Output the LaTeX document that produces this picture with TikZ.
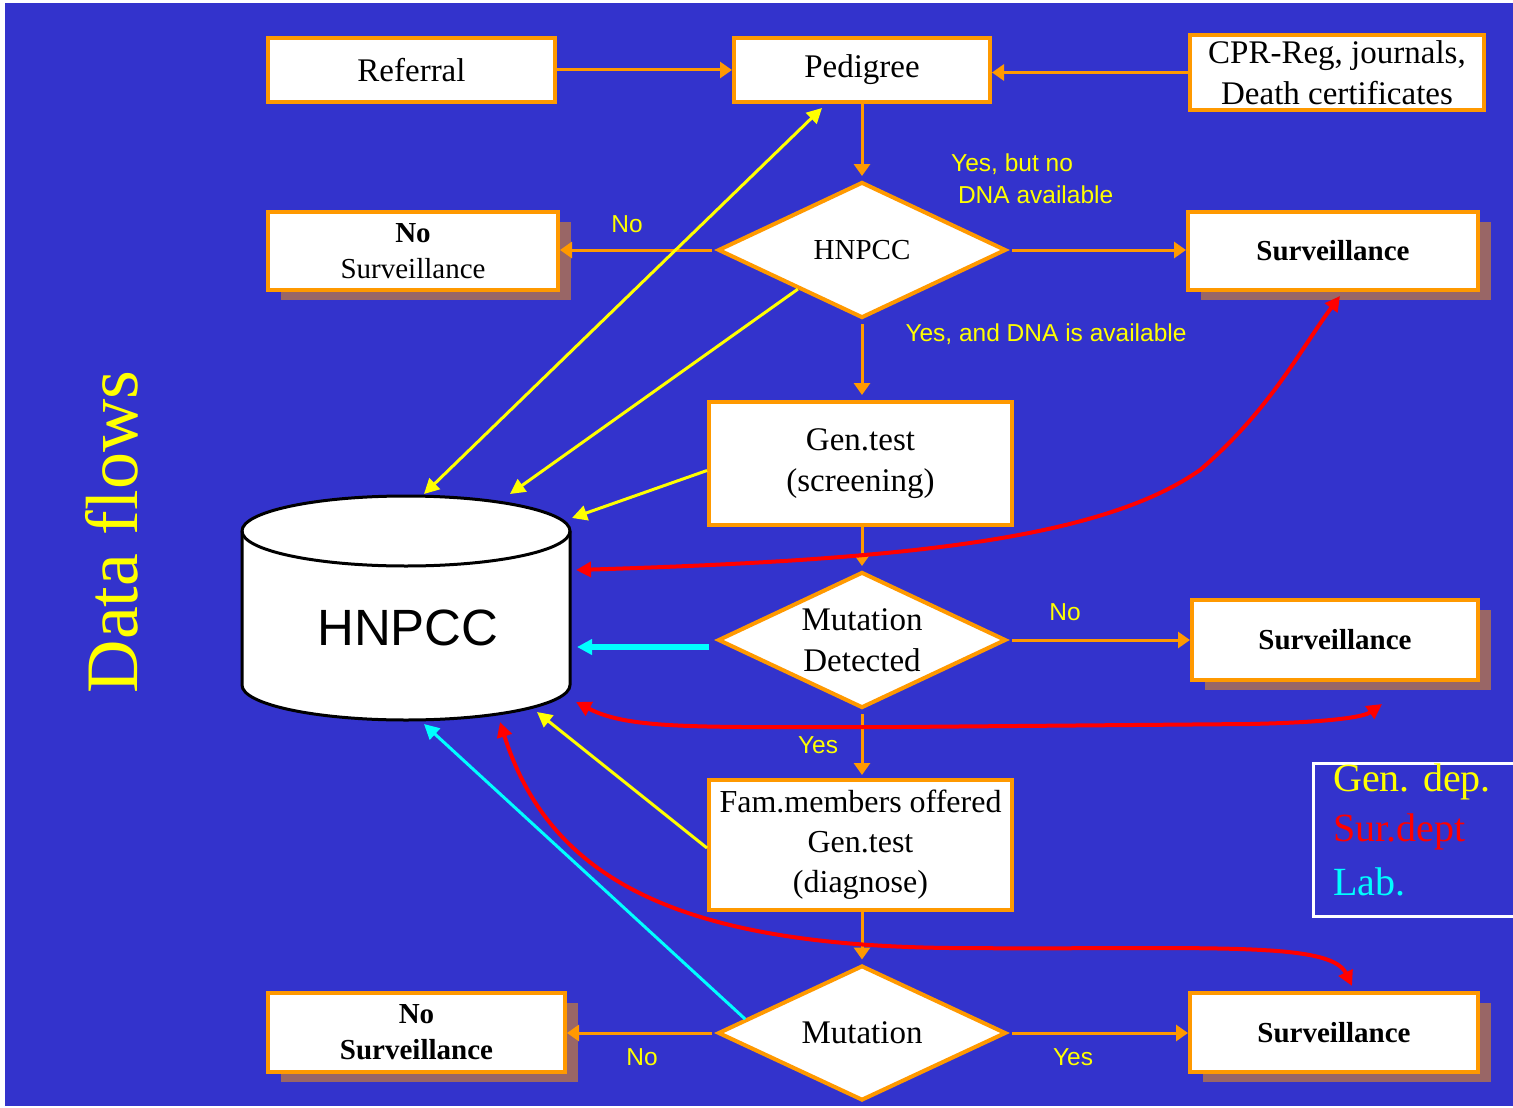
\documentclass[tikz,border=0pt]{standalone}
\usepackage{fontspec}
\setmainfont{Liberation Serif}
\newfontfamily\labfont{Liberation Sans}
\usetikzlibrary{shapes.geometric,arrows.meta,calc,shadows}
\definecolor{bgblue}{HTML}{3333CC}
\definecolor{orng}{HTML}{FF9900}
\definecolor{shbrown}{HTML}{996666}
\definecolor{ylw}{HTML}{FFFF00}
\definecolor{rd}{HTML}{FF0000}
\definecolor{cyn}{HTML}{00FFFF}
\begin{document}
\begin{tikzpicture}[x=1pt,y=-1pt,
  box/.style={draw=orng, line width=4pt, fill=white, rectangle, inner sep=2pt, align=center, font=\fontsize{33}{41}\selectfont},
  shbox/.style={box, drop shadow={shadow xshift=13pt, shadow yshift=-10pt, fill=shbrown, opacity=1}},
  dia/.style={draw=orng, line width=4pt, fill=white, diamond, inner sep=0pt, minimum width=288pt, minimum height=136pt},
  diatext/.style={font=\fontsize{33}{41}\selectfont, align=center},
  flow/.style={draw=orng, line width=3pt, -{Triangle[length=12pt,width=16pt]}},
  lab/.style={text=ylw, font=\labfont\fontsize{24.5}{32}\selectfont, inner sep=0pt},
  gen/.style={draw=ylw, line width=3pt},
  sur/.style={draw=rd, line width=4pt},
  labc/.style={draw=cyn},
  tip/.tip={Triangle[length=15pt,width=15pt]},
  legtext/.style={anchor=west, font=\fontsize{40}{48}\selectfont, inner sep=0pt}
]
\useasboundingbox (0,0) rectangle (1513,1108);
\fill[white] (0,0) rectangle (1513,1108);
\fill[bgblue] (5,3) rectangle (1513,1106);

% title
\node[rotate=90, anchor=base, text=ylw, font=\fontsize{74}{80}\selectfont, inner sep=0pt] (title) at (137,532) {Data flows};

% boxes
\node[box, minimum width=287pt, minimum height=64pt] (ref) at (411.5,70) {Referral};
\node[box, minimum width=256pt, minimum height=64pt] (ped) at (862,70) {Pedigree};
\node[box, minimum width=294pt, minimum height=75pt] (cpr) at (1337,72.5) {CPR-Reg, journals,\\Death certificates};
\node[shbox, minimum width=290pt, minimum height=78pt, font=\fontsize{29}{36}\selectfont] (ns1) at (413,251) {\textbf{No}\\Surveillance};
\node[shbox, minimum width=290pt, minimum height=78pt, font=\fontsize{29}{36}\selectfont\bfseries] (s1) at (1333,251) {Surveillance};
\node[dia, label={[diatext, font=\fontsize{29}{36}\selectfont]center:HNPCC}] (hn) at (862,250) {};
\node[box, minimum width=303pt, minimum height=123pt] (gen) at (860.5,463.5) {Gen.test\\(screening)};
\node[dia, label={[diatext]center:Mutation\\Detected}] (md) at (862,640) {};
\node[shbox, minimum width=286pt, minimum height=80pt, font=\fontsize{29}{36}\selectfont\bfseries] (s2) at (1335,640) {Surveillance};
\node[box, minimum width=303pt, minimum height=130pt, inner sep=1pt, font=\fontsize{32}{40}\selectfont] (fam) at (860.5,845) {Fam.members offered\\Gen.test\\(diagnose)};
\node[dia, minimum height=135pt, label={[diatext]center:Mutation}] (mu) at (862,1033) {};
\node[shbox, minimum width=297pt, minimum height=79pt, font=\fontsize{29}{36}\selectfont\bfseries] (ns2) at (416.5,1032.5) {No\\Surveillance};
\node[shbox, minimum width=288pt, minimum height=79pt, font=\fontsize{29}{36}\selectfont\bfseries] (s3) at (1334,1032.5) {Surveillance};

% database cylinder
\draw[line width=3pt, fill=white] (242,531) -- (242,685) arc[start angle=180,end angle=360,x radius=164pt,y radius=35pt] -- (570,531) arc[start angle=0,end angle=180,x radius=164pt,y radius=35pt] -- cycle;
\draw[line width=3pt] (242,531) arc[start angle=180,end angle=360,x radius=164pt,y radius=35pt];
\node[font=\labfont\fontsize{51}{56}\selectfont, inner sep=0pt] (db) at (408,628) {HNPCC};
\coordinate (dbY1) at (424,494);
\coordinate (dbY2) at (510,494);
\coordinate (dbY3) at (572,518);
\coordinate (dbY4) at (537,712);
\coordinate (dbR1) at (576,570);
\coordinate (dbR2) at (576,702);
\coordinate (dbR3) at (500,722);
\coordinate (dbC1) at (577,647);
\coordinate (dbC2) at (424,724);
\coordinate (r2end) at (1382,704);

% orange flow arrows
\draw[flow] (ref.east) -- (ped.west);
\draw[flow] (cpr.west) -- (cpr.west -| ped.east);
\draw[flow, shorten >=4pt] (ped.south) -- (hn.north);
\draw[flow, shorten <=4pt] (hn.west) -- (hn.west -| ns1.east);
\draw[flow, shorten <=4pt] (hn.east) -- (hn.east -| s1.west);
\draw[flow, shorten <=4pt, shorten >=5pt] (hn.south) -- (hn.south |- gen.north);
\draw[flow, shorten >=4pt] (gen.south -| md.north) -- (md.north);
\draw[flow, shorten <=4pt] (md.east) -- (md.east -| s2.west);
\draw[flow, shorten <=4pt, shorten >=3pt] (md.south) -- (md.south |- fam.north);
\draw[flow, shorten >=4pt] (fam.south -| mu.north) -- (mu.north);
\draw[flow, shorten <=4pt] (mu.west) -- (mu.west -| ns2.east);
\draw[flow, shorten <=4pt] (mu.east) -- (mu.east -| s3.west);

% labels
\node[lab, align=left, anchor=west] (l1) at (951,179) {Yes, but no\\\ DNA available};
\node[lab] (l2) at (627,224) {No};
\node[lab] (l3) at (1046,334) {Yes, and DNA is available};
\node[lab] (l4) at (1065,612) {No};
\node[lab] (l5) at (818,745) {Yes};
\node[lab] (l6) at (642,1057) {No};
\node[lab] (l7) at (1073,1057) {Yes};

% yellow (Gen. dep.)
\draw[gen, tip-tip] (dbY1) -- ($(ped.south)+(-40,4)$);
\draw[gen, -tip] ($(hn.west)!0.56!(hn.south)$) -- (dbY2);
\draw[gen, -tip] ($(gen.west)+(0,7)$) -- (dbY3);
\draw[gen, -tip] ($(fam.west)+(0,3)$) -- (dbY4);

% red (Sur. dept)
\draw[sur, tip-tip] (dbR1) .. controls (900,560) and (1100,540) .. (1200,470) .. controls (1270,410) and (1300,350) .. ($(s1.south)+(7,4)$);
\draw[sur, tip-tip] (dbR2) .. controls (630,730) and (700,727) .. (900,727) -- (1250,724) .. controls (1340,722) and (1365,716) .. (r2end);
\draw[sur, tip-tip] (dbR3) .. controls (550,880) and (680,945) .. (950,948) .. controls (1200,950) and (1330,940) .. ($(s3.north)+(18,-5)$);

% cyan (Lab.)
\draw[labc, line width=6pt, -tip] ($(md.west)+(-7,7)$) -- (dbC1);
\draw[labc, line width=3pt, -tip] ($(mu.west)!0.2!(mu.north)$) -- (dbC2);

% legend
\node[draw=white, line width=3pt, minimum width=206pt, minimum height=153pt, anchor=north west, inner sep=0pt] (leg) at (1312,762) {};
\node[legtext, text=ylw] (lg1) at (1333,782) {Gen. dep.};
\node[legtext, text=rd] (lg2) at (1333,832) {Sur.dept};
\node[legtext, text=cyn] (lg3) at (1333,882) {Lab.};
\end{tikzpicture}
\end{document}
